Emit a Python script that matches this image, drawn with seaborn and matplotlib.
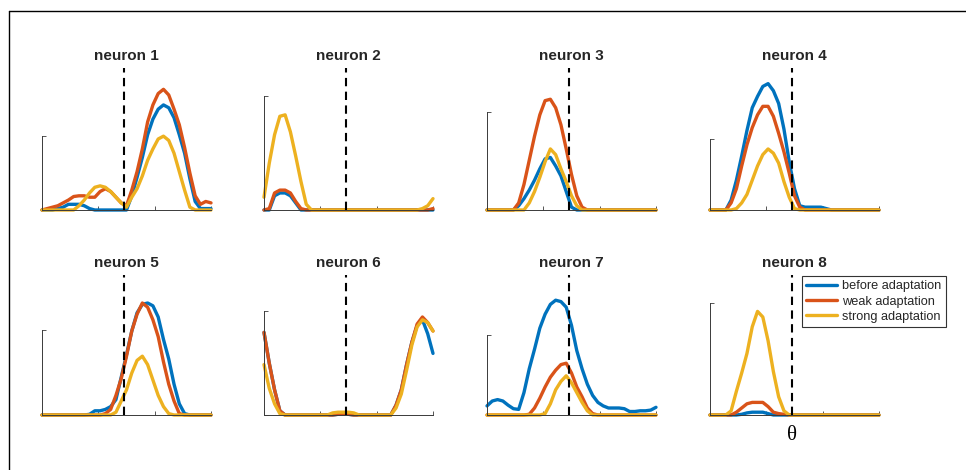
import numpy as np
import pandas as pd
import matplotlib
matplotlib.use("Agg")
import matplotlib.pyplot as plt
import seaborn as sns
from matplotlib.lines import Line2D

# ---------------- data ----------------
conditions = ["before adaptation", "weak adaptation", "strong adaptation"]
colors = ["#0072BD", "#D95319", "#EDB120"]
titles = ["neuron 1", "neuron 2", "neuron 3", "neuron 4",
          "neuron 5", "neuron 6", "neuron 7", "neuron 8"]
stim = np.linspace(0, 1, 33)          # stimulus axis samples
theta = 0.488                          # adapter / boundary position
yaxis_top = [52, 80, 69, 50, 61, 74, 57, 80]

n1_before = [0,0,0,1,2,4,4,4,3,1,0,0,0,0,0,0,0,10,23,37,53,64,71,74,72,65,53,40,22,6,1,1,1]
n1_weak   = [0,1,2,3,5,7,9.5,10,10,9,9,13,15,13,9,5,3,14,27,43,62,74,82,85,81,71,60,44,26,10,4,6,5]
n1_strong = [0,0,0,0,0,0,0,3,7,12,16,17,16,13,9,5,2,9,15,24,35,43,50,52,49,40,27,14,2,0,0,0,0]

n2_before = [0,0,10,12,12,10,5,0,0,0,0,0,0,0,0,0,0,0,0,0,0,0,0,0,0,0,0,0,0,0,0,0,0]
n2_weak   = [0,1,12,14,14,12,6,1,0,0,0,0,0,0,0,0,0,0,0,0,0,0,0,0,0,0,0,0,0,0,0,0,1]
n2_strong = [9,33,53,66,67,55,38,20,4,0,0,0,0,0,0,0,0,0,0,0,0,0,0,0,0,0,0,0,0,0,1,3,8]

n3_before = [0,0,0,0,0,0,3,8,14,21,29,36,37,31,24,13,2,0,0,0,0,0,0,0,0,0,0,0,0,0,0,0,0]
n3_weak   = [0,0,0,0,0,0,5,18,35,52,67,77,78,72,60,43,25,10,2,0,0,0,0,0,0,0,0,0,0,0,0,0,0]
n3_strong = [0,0,0,0,0,0,0,0,5,13,23,34,43,39,29,20,10,3,0,0,0,0,0,0,0,0,0,0,0,0,0,0,0]

n4_before = [0,0,0,0,7,21,38,56,72,80,87,89,84,75,57,34,15,3,2,2,2,2,1,0,0,0,0,0,0,0,0,0,0]
n4_weak   = [0,0,0,0,5,15,31,46,58,67,73,73,66,54,41,26,10,2,0,0,0,0,0,0,0,0,0,0,0,0,0,0,0]
n4_strong = [0,0,0,0,0,1,5,11,21,31,39,43,40,33,20,9,1,0,0,0,0,0,0,0,0,0,0,0,0,0,0,0,0]

n5_before = [0,0,0,0,0,0,0,0,0,0.5,3,3,4,6,11,27,43,60,73,79,80,78,70,54,40,22,8,1,0,0,0,0,0]
n5_weak   = [0,0,0,0,0,0,0,0,0,0,0,0,1,4,14,26,42,60,72,80,77,68,56,38,22,10,1,0,0,0,0,0,0]
n5_strong = [0,0,0,0,0,0,0,0,0,0,0,0,0,0,2,10,18,30,39,42,36,25,14,6,1,0,0,0,0,0,0,0,0]

n6_before = [59,37,18,3,0,0,0,0,0,0,0,0,0,0,0.5,1,0.5,0,0,0,0,0,0,0,0,7,18,36,52,64,68,58,44]
n6_weak   = [59,37,18,3,0,0,0,0,0,0,0,0,0,0,0.5,1,0.5,0,0,0,0,0,0,0,0,7,18,36,52,65,70,66,60]
n6_strong = [36,19,8,1,0,0,0,0,0,0,0,0,0,1.5,2,2,2,1.5,0,0,0,0,0,0,0,5,15,32,50,63,68,66,60]

n7_before = [6.5,10,11,10,7,4.5,4,16,33,47,62,72,79,82,81,77,64,46,33,22,14,9,6.5,5,5,5,4.5,2.5,2.5,3,3,3.5,5.5]
n7_weak   = [0,0,0,0,0,0,0,0,0.5,5,12,20,27,32,36,37,30,20,13,5,1,0,0,0,0,0,0,0,0,0,0,0,0]
n7_strong = [0,0,0,0,0,0,0,0,0,0,0,1,8,18,24,28,23,16,9,3,0,0,0,0,0,0,0,0,0,0,0,0,0]

n8_before = [0,0,0,0,0,0,0.5,1.5,2,2,2,1,0,0,0,0,0,0,0,0,0,0,0,0,0,0,0,0,0,0,0,0,0]
n8_weak   = [0,0,0,0,0,2,5,8,9,9,9,6,2,1,0.5,0,0,0,0,0,0,0,0,0,0,0,0,0,0,0,0,0,0]
n8_strong = [0,0,0,0,3,17,30,44,63,74,70,53,31,13,3,0,0,0,0,0,0,0,0,0,0,0,0,0,0,0,0,0,0]

panels = [
    (n1_before, n1_weak, n1_strong), (n2_before, n2_weak, n2_strong),
    (n3_before, n3_weak, n3_strong), (n4_before, n4_weak, n4_strong),
    (n5_before, n5_weak, n5_strong), (n6_before, n6_weak, n6_strong),
    (n7_before, n7_weak, n7_strong), (n8_before, n8_weak, n8_strong),
]

# ---------------- style ----------------
sns.set_theme(style="white")
plt.rcParams["font.family"] = ["Liberation Sans", "DejaVu Sans"]

W, H = 966, 470
fig = plt.figure(figsize=(W / 100, H / 100), dpi=100)
fig.patch.set_facecolor("white")

col_left = [42, 264, 487, 710]
row_bottom = [260, 55]
row_height = [142, 140]
ax_w = 169
axis_col = "#3a3a3a"

for k, series in enumerate(panels):
    r, c = divmod(k, 4)
    ax = fig.add_axes([col_left[c] / W, row_bottom[r] / H, ax_w / W, row_height[r] / H])
    ax.patch.set_alpha(0)
    df = pd.concat([
        pd.DataFrame({"x": stim, "rate": vals, "condition": cond})
        for cond, vals in zip(conditions, series)
    ], ignore_index=True)
    sns.lineplot(data=df, x="x", y="rate", hue="condition", hue_order=conditions,
                 palette=colors, linewidth=2.4, legend=False, ax=ax,
                 estimator=None, sort=False)
    for ln in ax.lines:
        ln.set_clip_on(False)
        ln.set_solid_joinstyle("round")
    ax.axvline(theta, 0, 1, color="black", lw=1.5, ls=(0, (4, 2.6)), zorder=5,
               clip_on=False)
    ax.set_xlim(0, 1)
    ax.set_ylim(0, 100)
    for s in ["top", "right"]:
        ax.spines[s].set_visible(False)
    ax.spines["left"].set_bounds(0, yaxis_top[k])
    ax.spines["left"].set_color(axis_col)
    ax.spines["bottom"].set_color(axis_col)
    ax.spines["left"].set_linewidth(0.7)
    ax.spines["bottom"].set_linewidth(0.7)
    ax.set_xticks([0, 1 / 3, 2 / 3, 1])
    ax.set_yticks([0, yaxis_top[k]])
    ax.set_xticklabels([])
    ax.set_yticklabels([])
    ax.tick_params(direction="in", length=3, width=0.6, colors=axis_col,
                   bottom=True, left=True)
    ax.set_xlabel("")
    ax.set_ylabel("")
    ax.set_title(titles[k], fontsize=11, fontweight="bold", color="#262626", pad=6)
    if k == 7:
        ax.text(theta, -0.145, "θ", transform=ax.get_xaxis_transform(),
                ha="center", va="center", fontsize=15,
                family=["Liberation Serif", "DejaVu Serif"], color="black")

handles = [Line2D([], [], color=col, lw=2.4) for col in colors]
leg = fig.legend(handles, conditions, loc="upper left",
                 bbox_to_anchor=(802 / W, 1 - 276 / H), frameon=True,
                 fancybox=False, edgecolor="#333333", fontsize=9.2,
                 handlelength=2.35, handletextpad=0.45, borderpad=0.35,
                 labelspacing=0.25, borderaxespad=0)
leg.get_frame().set_linewidth(0.8)
leg.get_frame().set_alpha(1)

# outer frame lines (left and top)
fig.add_artist(Line2D([9 / W, 9 / W], [0, 1 - 11 / H], color="black", lw=1,
                      transform=fig.transFigure))
fig.add_artist(Line2D([9 / W, 1], [1 - 11 / H, 1 - 11 / H], color="black", lw=1,
                      transform=fig.transFigure))

fig.savefig("out.png", dpi=100)
